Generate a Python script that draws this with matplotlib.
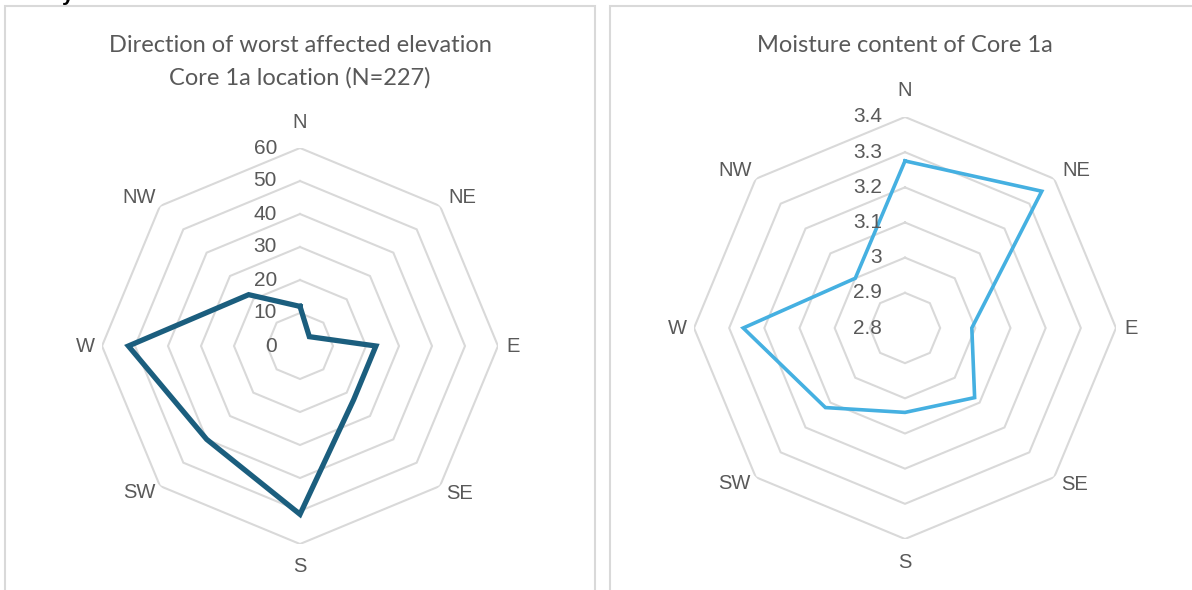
import numpy as np
import matplotlib
matplotlib.use("Agg")
import matplotlib.pyplot as plt
from matplotlib.patches import Rectangle

# Compass directions (clockwise from north)
directions = ["N", "NE", "E", "SE", "S", "SW", "W", "NW"]

# Count of worst affected elevation per direction, Core 1a (N=227)
worst_counts = [12, 4, 23, 23, 51, 40, 52, 22]
count_ticks = [0, 10, 20, 30, 40, 50, 60]

# Moisture content of Core 1a per direction
moisture = [3.275, 3.35, 2.99, 3.08, 3.04, 3.12, 3.26, 3.0]
moisture_ticks = [2.8, 2.9, 3.0, 3.1, 3.2, 3.3, 3.4]
moisture_tick_labels = ["2.8", "2.9", "3", "3.1", "3.2", "3.3", "3.4"]

W, H = 1192, 590
TEXT = "#595959"
GRID = "#d9d9d9"
TICK_FONT = ["Liberation Sans", "DejaVu Sans"]
TITLE_FONT = ["Lato", "DejaVu Sans"]

fig = plt.figure(figsize=(W / 100, H / 100), dpi=100)
fig.patch.set_facecolor("white")

# Label offsets (pixels) away from the outer ring vertex of each direction
label_offsets = {
    "N": (0, 26), "NE": (22, 8), "E": (15, 0), "SE": (20, -7),
    "S": (0, -23), "SW": (-21, -6), "W": (-17, 0), "NW": (-21, 8),
}


def radar(rect, values, ticks, tick_labels, color, lw):
    ax = fig.add_axes(rect, projection="polar")
    ax.set_theta_zero_location("N")
    ax.set_theta_direction(-1)
    ax.set_ylim(ticks[0], ticks[-1])
    ax.grid(False)
    ax.spines["polar"].set_visible(False)
    ax.set_xticks([])
    ax.set_yticks([])
    ax.patch.set_alpha(0)

    theta = np.linspace(0, 2 * np.pi, len(directions), endpoint=False)
    theta_c = np.append(theta, theta[0])

    # octagonal gridlines
    for t in ticks[1:]:
        ax.plot(theta_c, [t] * len(theta_c), color=GRID, lw=1.5,
                solid_joinstyle="miter", zorder=1)

    # data polygon
    vals = list(values) + [values[0]]
    ax.plot(theta_c, vals, color=color, lw=lw, solid_joinstyle="miter",
            zorder=3, clip_on=False)

    # value axis labels along the north spoke
    for t, lab in zip(ticks, tick_labels):
        ax.annotate(lab, xy=(0, t), xytext=(-23, 0), textcoords="offset pixels",
                    ha="right", va="center", fontsize=15, color=TEXT,
                    family=TICK_FONT, annotation_clip=False)

    # direction labels
    for th, d in zip(theta, directions):
        ax.annotate(d, xy=(th, ticks[-1]), xytext=label_offsets[d],
                    textcoords="offset pixels", ha="center", va="center",
                    fontsize=14.5, color=TEXT, family=TICK_FONT,
                    annotation_clip=False)
    return ax


# left radar: centre (300, 346), radius 198 px
cx, cy, R = 300, 346, 198
radar([(cx - R) / W, (H - cy - R) / H, 2 * R / W, 2 * R / H],
      worst_counts, count_ticks, [str(t) for t in count_ticks], "#1b5e7e", 3.8)

# right radar: centre (905, 328), radius 211 px
cx, cy, R = 905, 328, 211
radar([(cx - R) / W, (H - cy - R) / H, 2 * R / W, 2 * R / H],
      moisture, moisture_ticks, moisture_tick_labels, "#45b0e1", 2.6)

# chart frames
fig.add_artist(Rectangle((5 / W, -0.05), 590 / W, (H - 6) / H + 0.05,
                         transform=fig.transFigure, fill=False,
                         edgecolor=GRID, lw=1.5))
fig.add_artist(Rectangle((610 / W, -0.05), 600 / W, (H - 6) / H + 0.05,
                         transform=fig.transFigure, fill=False,
                         edgecolor=GRID, lw=1.5))

# titles
fig.text(300 / W, 1 - 45 / H, "Direction of worst affected elevation",
         ha="center", va="center", fontsize=17, color=TEXT, family=TITLE_FONT)
fig.text(300 / W, 1 - 78 / H, "Core 1a location (N=227)",
         ha="center", va="center", fontsize=17, color=TEXT, family=TITLE_FONT)
fig.text(905 / W, 1 - 45 / H, "Moisture content of Core 1a",
         ha="center", va="center", fontsize=17, color=TEXT, family=TITLE_FONT)

# heading fragment above the frames
fig.text(62 / W, 1 - 1 / H, "y", ha="left", va="baseline", fontsize=15,
         fontweight="bold", color="black", family=TICK_FONT)

fig.savefig("out.png", dpi=100, facecolor="white")
